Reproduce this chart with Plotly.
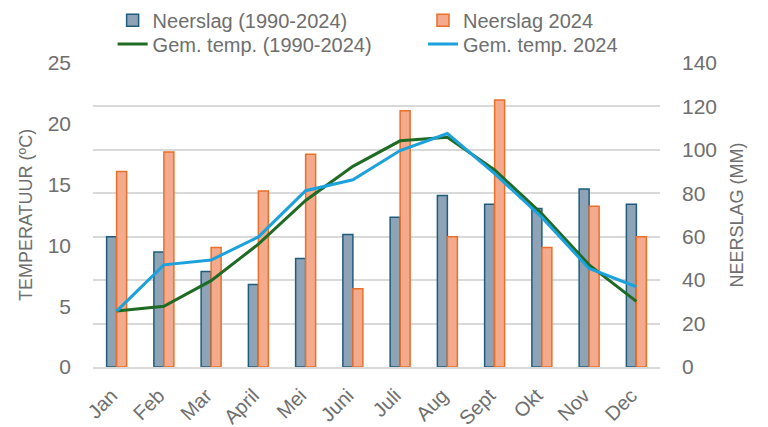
import plotly.graph_objects as go

months = ["Jan", "Feb", "Mar", "April", "Mei", "Juni", "Juli", "Aug", "Sept", "Okt", "Nov", "Dec"]
neerslag_gem = [60, 53, 44, 38, 50, 61, 69, 79, 75, 73, 82, 75]
neerslag_2024 = [90, 99, 55, 81, 98, 36, 118, 60, 123, 55, 74, 60]
temp_gem = [4.6, 5.0, 7.1, 10.1, 13.7, 16.5, 18.6, 18.9, 16.2, 12.6, 8.4, 5.4]
temp_2024 = [4.6, 8.4, 8.8, 10.7, 14.5, 15.4, 17.8, 19.2, 15.9, 12.3, 8.1, 6.6]

FONT = "Liberation Sans, Arial, sans-serif"
GRAY = "#6e6e6e"

fig = go.Figure()
fig.add_trace(go.Bar(
    x=months, y=neerslag_gem, name="Neerslag (1990-2024)", yaxis="y",
    marker=dict(color="#8ea3b5", line=dict(color="#1f5c7b", width=1.5)),
    legend="legend", showlegend=True,
))
fig.add_trace(go.Bar(
    x=months, y=neerslag_2024, name="Neerslag 2024", yaxis="y",
    marker=dict(color="#f4aa8d", line=dict(color="#e8702a", width=1.5)),
    legend="legend2", showlegend=True,
))
fig.add_trace(go.Scatter(
    x=months, y=temp_gem, name="Gem. temp. (1990-2024)", yaxis="y2",
    mode="lines", line=dict(color="#1f6b24", width=3),
    legend="legend3", showlegend=True,
))
fig.add_trace(go.Scatter(
    x=months, y=temp_2024, name="Gem. temp. 2024", yaxis="y2",
    mode="lines", line=dict(color="#1ba1dc", width=3),
    legend="legend4", showlegend=True,
))

def leg(x, y):
    return dict(
        orientation="h", x=x, y=y, xanchor="left", yanchor="middle",
        font=dict(size=20, color=GRAY), bgcolor="rgba(0,0,0,0)",
    )

fig.update_layout(
    width=760, height=419,
    showlegend=True,
    margin=dict(l=85, r=108, t=55, b=60, autoexpand=False),
    paper_bgcolor="white", plot_bgcolor="white",
    font=dict(family=FONT, color=GRAY),
    barmode="group", bargap=0.577, bargroupgap=0,
    xaxis=dict(
        tickangle=-45, tickfont=dict(size=20, color=GRAY),
        showline=True, linecolor="#d9d9d9", linewidth=2,
        ticks="", showgrid=False, ticklabelstandoff=7, ticklabelshift=-5,
    ),
    yaxis=dict(
        side="right", range=[0, 140], dtick=20,
        showgrid=True, gridcolor="#d9d9d9", gridwidth=1.5,
        zeroline=False, tickfont=dict(size=21, color=GRAY),
        ticklabelstandoff=21,
        title=dict(text="NEERSLAG (MM)", font=dict(size=18, color=GRAY), standoff=14),
    ),
    yaxis2=dict(
        side="left", overlaying="y", range=[0, 25], dtick=5,
        showgrid=False, zeroline=False, tickfont=dict(size=21, color=GRAY),
        ticklabelstandoff=21,
        title=dict(text="TEMPERATUUR (ºC)", font=dict(size=18, color=GRAY), standoff=10),
    ),
    legend=leg(0.0346, 1.141),
    legend2=leg(0.582, 1.141),
    legend3=leg(0.0346, 1.0625),
    legend4=leg(0.582, 1.0625),
    shapes=[dict(type="line", xref="paper", yref="paper",
                 x0=1.183, x1=1.183, y0=-0.2, y1=1.19,
                 line=dict(color="#a0a0a0", width=1))],
)

fig.write_html("out.html")
